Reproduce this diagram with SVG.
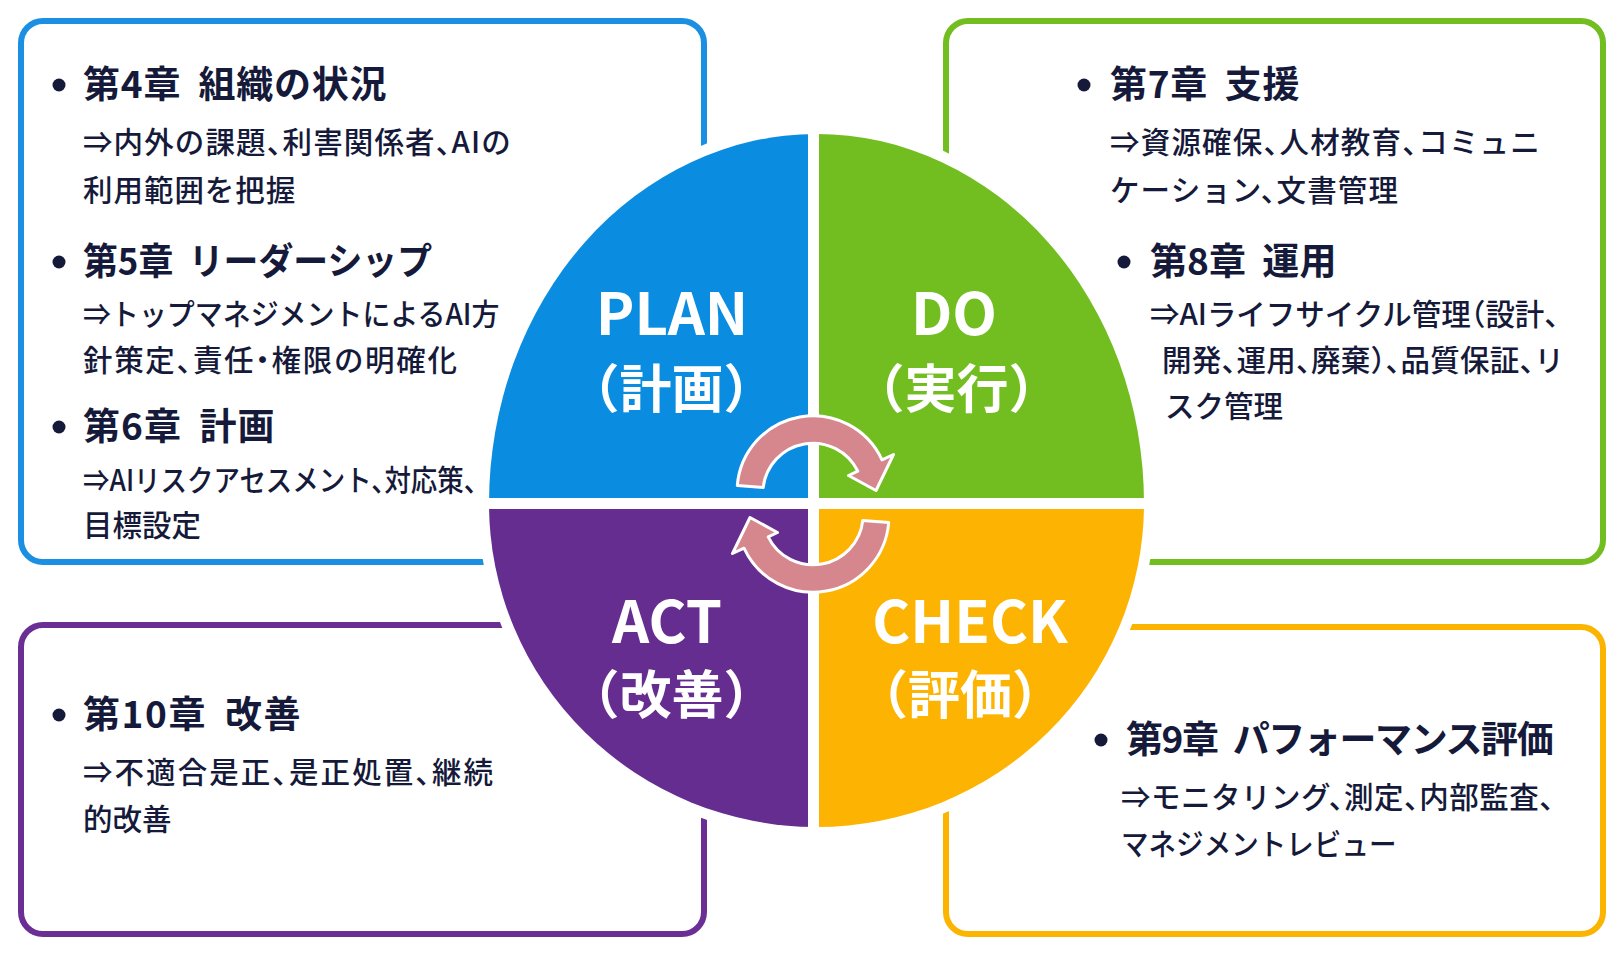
<svg xmlns="http://www.w3.org/2000/svg" width="1624" height="969" viewBox="0 0 1624 969">
<defs>
<style>
.box{fill:#ffffff;stroke-width:6}
.h{font-family:"Noto Sans CJK JP","Noto Sans",sans-serif;font-weight:700;font-size:37px;fill:#161a3a;word-spacing:8px}
.s{font-family:"Noto Sans CJK JP","Noto Sans",sans-serif;font-weight:500;font-size:29.5px;fill:#161a3a;font-feature-settings:"halt"}
.dot{fill:#161a3a}
.lab{font-family:"Noto Sans CJK JP","Noto Sans",sans-serif;font-weight:700;fill:#ffffff;text-anchor:middle}
.en{font-size:58px}
.jp{font-size:52px}
.arr{fill:#d6868d;stroke:#ffffff;stroke-width:3;stroke-linejoin:round}
</style>
</defs>
<rect width="1624" height="969" fill="#ffffff"/>

<g id="box-plan">
<rect class="box" x="21" y="21" width="683" height="541" rx="22" stroke="#1b8fe2"/>
</g>
<g id="box-do">
<rect class="box" x="946" y="21" width="657" height="541" rx="22" stroke="#72bd1f"/>
</g>
<g id="box-act">
<rect class="box" x="21" y="625" width="683" height="309" rx="22" stroke="#6a2e94"/>
</g>
<g id="box-check">
<rect class="box" x="946" y="627" width="657" height="307" rx="22" stroke="#fbb400"/>
</g>

<g id="pdca-circle">
<path d="M489 503.5 A327.5 369.5 0 0 1 1144 503.5 A327.5 323.5 0 0 1 489 503.5 Z" fill="#ffffff" stroke="#ffffff" stroke-width="22"/>
<path d="M816.5 503.5 L489 503.5 A327.5 369.5 0 0 1 816.5 134 Z" fill="#0a8ce0"/>
<path d="M816.5 503.5 L816.5 134 A327.5 369.5 0 0 1 1144 503.5 Z" fill="#72bd1f"/>
<path d="M816.5 503.5 L1144 503.5 A327.5 323.5 0 0 1 816.5 827 Z" fill="#fdb302"/>
<path d="M816.5 503.5 L816.5 827 A327.5 323.5 0 0 1 489 503.5 Z" fill="#662d91"/>
<rect x="808" y="120" width="11" height="720" fill="#ffffff"/>
<rect x="470" y="498" width="690" height="11" fill="#ffffff"/>
</g>

<g id="cycle-arrows">
<path class="arr" d="M737.3 485.5 A76 76 0 0 1 882 459.8 L893.5 454.5 L876 490.5 L848.5 475.5 L857.8 471.2 A50 50 0 0 0 763.2 487.6 Z"/>
<path class="arr" transform="rotate(180 813 504)" d="M737.3 485.5 A76 76 0 0 1 882 459.8 L893.5 454.5 L876 490.5 L848.5 475.5 L857.8 471.2 A50 50 0 0 0 763.2 487.6 Z"/>
</g>

<g id="label-plan">
<text class="lab en" x="672" y="335">PLAN</text>
<text class="lab jp" x="671.5" y="408">（計画）</text>
</g>
<g id="label-do">
<text class="lab en" x="954" y="335">DO</text>
<text class="lab jp" x="956.5" y="408">（実行）</text>
</g>
<g id="label-act">
<text class="lab en" x="667" y="643">ACT</text>
<text class="lab jp" x="671.5" y="714">（改善）</text>
</g>
<g id="label-check">
<text class="lab en" x="970" y="643">CHECK</text>
<text class="lab jp" x="960" y="714">（評価）</text>
</g>

<g id="text-plan">
<circle class="dot" cx="59" cy="85" r="6.5"/>
<text class="h" x="83" y="98" textLength="303.5" lengthAdjust="spacing">第4章 組織の状況</text>
<text class="s" x="83" y="153" textLength="427.7" lengthAdjust="spacing">⇒内外の課題、利害関係者、AIの</text>
<text class="s" x="83" y="200.5" textLength="212.3" lengthAdjust="spacing">利用範囲を把握</text>
<circle class="dot" cx="59" cy="262" r="6.5"/>
<text class="h" x="83" y="275" textLength="349" lengthAdjust="spacingAndGlyphs">第5章 リーダーシップ</text>
<text class="s" x="83" y="325" textLength="416.4" lengthAdjust="spacingAndGlyphs">⇒トップマネジメントによるAI方</text>
<text class="s" x="83" y="371" textLength="373.9" lengthAdjust="spacing">針策定、責任・権限の明確化</text>
<circle class="dot" cx="59" cy="427" r="6.5"/>
<text class="h" x="83" y="440" textLength="191.6" lengthAdjust="spacing">第6章 計画</text>
<text class="s" x="83" y="490.5" textLength="394" lengthAdjust="spacingAndGlyphs">⇒AIリスクアセスメント、対応策、</text>
<text class="s" x="83" y="536">目標設定</text>
</g>

<g id="text-do">
<circle class="dot" cx="1084" cy="85" r="6.5"/>
<text class="h" x="1110" y="98" textLength="189.5" lengthAdjust="spacing">第7章 支援</text>
<text class="s" x="1110" y="153" textLength="429.8" lengthAdjust="spacing">⇒資源確保、人材教育、コミュニ</text>
<text class="s" x="1110" y="200.5" textLength="287.9" lengthAdjust="spacing">ケーション、文書管理</text>
<circle class="dot" cx="1124" cy="262" r="6.5"/>
<text class="h" x="1150" y="275" textLength="186.4" lengthAdjust="spacing">第8章 運用</text>
<text class="s" x="1150" y="325" textLength="409.1" lengthAdjust="spacing">⇒AIライフサイクル管理（設計、</text>
<text class="s" x="1162" y="371" textLength="401.9" lengthAdjust="spacing">開発、運用、廃棄）、品質保証、リ</text>
<text class="s" x="1165" y="417">スク管理</text>
</g>

<g id="text-act">
<circle class="dot" cx="59" cy="715" r="6.5"/>
<text class="h" x="83" y="728" textLength="217.5" lengthAdjust="spacing">第10章 改善</text>
<text class="s" x="83" y="783" textLength="410.1" lengthAdjust="spacing">⇒不適合是正、是正処置、継続</text>
<text class="s" x="83" y="830">的改善</text>
</g>

<g id="text-check">
<circle class="dot" cx="1101" cy="740" r="6.5"/>
<text class="h" x="1126" y="753" textLength="427.7" lengthAdjust="spacing">第9章 パフォーマンス評価</text>
<text class="s" x="1121" y="808" textLength="432.9" lengthAdjust="spacing">⇒モニタリング、測定、内部監査、</text>
<text class="s" x="1121" y="855" textLength="275.5" lengthAdjust="spacingAndGlyphs">マネジメントレビュー</text>
</g>
</svg>
